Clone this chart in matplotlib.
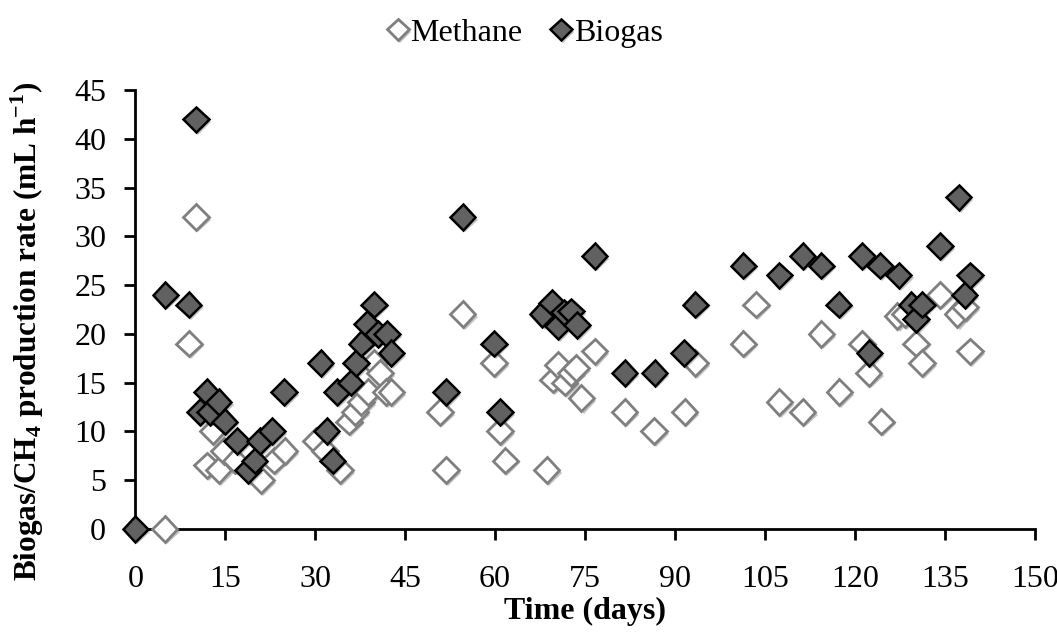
import matplotlib
matplotlib.use('Agg')
import matplotlib.pyplot as plt
import matplotlib.patheffects as pe
import numpy as np

# Biogas production rate (mL/h)
biogas_days = [0, 5.0, 8.9, 10.1, 10.8, 11.9, 12.5, 13.9, 14.9, 17.0, 18.8, 19.9, 20.8,
               22.8, 24.8, 30.9, 31.9, 32.9, 33.6, 35.9, 36.8, 37.7, 38.6, 39.8, 40.5,
               42.0, 42.7, 51.8, 54.6, 59.8, 60.8, 67.9, 69.5, 70.5, 71.5, 72.7, 73.7,
               76.6, 81.6, 86.6, 91.5, 93.4, 101.4, 107.4, 111.3, 114.4, 117.3, 121.2,
               122.4, 124.2, 127.3, 129.4, 130.2, 131.2, 134.2, 137.3, 138.3, 139.2]
biogas_rate = [0, 24, 23, 42, 12, 14, 12, 13, 11, 9, 6, 7, 9,
               10, 14, 17, 10, 7, 14, 15, 17, 19, 21, 23, 20,
               20, 18, 14, 32, 19, 12, 22, 23.2, 20.8, 22.2, 22.3, 20.9,
               28, 16, 16, 18, 23, 27, 26, 28, 27, 23, 28,
               18, 27, 26, 23, 21.5, 23, 29, 34, 24, 26]

# Methane production rate (mL/h)
methane_days = [4.9, 9.0, 10.1, 12.0, 12.9, 13.9, 14.8, 16.7, 21.0, 23.1, 24.9,
                30.1, 31.6, 34.1, 35.6, 36.6, 37.6, 38.8, 39.8, 40.8, 41.8, 42.7,
                50.8, 51.8, 54.6, 59.8, 60.8, 61.7, 68.6, 69.6, 70.5, 71.6, 72.7,
                73.5, 74.4, 76.6, 81.6, 86.5, 91.6, 93.4, 101.4, 103.5, 107.4,
                111.3, 114.4, 117.4, 121.2, 122.3, 124.4, 127.1, 128.3, 130.2,
                131.2, 134.2, 137.1, 138.4, 139.2]
methane_rate = [0, 19, 32, 6.5, 10, 6, 8, 7, 5, 7, 8,
                9, 8, 6, 11, 12, 13, 14, 17, 16, 14, 14,
                12, 6, 22, 17, 10, 7, 6, 15.3, 16.8, 15, 16,
                16.5, 13.4, 18.2, 12, 10, 12, 17, 19, 23, 13,
                12, 20, 14, 19, 16, 11, 21.8, 22, 19,
                17, 24, 22, 22.7, 18.2]

x_ticks = np.arange(0, 151, 15)
y_ticks = np.arange(0, 46, 5)

plt.rcParams['font.family'] = ['Liberation Serif', 'DejaVu Serif']
plt.rcParams['mathtext.fontset'] = 'custom'
plt.rcParams['mathtext.rm'] = 'Liberation Serif'
plt.rcParams['mathtext.bf'] = 'Liberation Serif:bold'

fig = plt.figure(figsize=(10.57, 6.34), dpi=100)
ax = fig.add_axes([0.128, 0.166, 0.851, 0.692])

shadow = [pe.SimplePatchShadow(offset=(1.5, -2), shadow_rgbFace='#555555', alpha=0.35), pe.Normal()]

ax.plot(methane_days, methane_rate, linestyle='none', marker='D', markersize=13,
        markerfacecolor='white', markeredgecolor='#7f7f7f', markeredgewidth=2,
        label='Methane', path_effects=shadow, clip_on=False, zorder=3)
ax.plot(biogas_days, biogas_rate, linestyle='none', marker='D', markersize=13,
        markerfacecolor='#616161', markeredgecolor='black', markeredgewidth=1.8,
        label='Biogas', path_effects=shadow, clip_on=False, zorder=4)

ax.set_xlim(0, 150)
ax.set_ylim(0, 45)
ax.set_xticks(x_ticks)
ax.set_yticks(y_ticks)
ax.spines['top'].set_visible(False)
ax.spines['right'].set_visible(False)
for side in ['left', 'bottom']:
    ax.spines[side].set_linewidth(2)
ax.tick_params(direction='out', length=8, width=2, labelsize=23)
ax.tick_params(axis='x', pad=18)
ax.tick_params(axis='y', pad=13)

ax.set_xlabel('Time (days)', fontsize=23, fontweight='bold', labelpad=2)
ax.set_ylabel(r'Biogas/CH$_\mathbf{4}$ production rate (mL h$^{\mathbf{-1}}$)',
              fontsize=22.5, fontweight='bold')
ax.yaxis.set_label_coords(-0.099, 0.45)

fig.legend(loc='center', bbox_to_anchor=(0.497, 0.948), ncol=2, frameon=False,
           fontsize=23, markerscale=0.85, handlelength=0.6, handletextpad=0.1,
           columnspacing=0.9)

plt.savefig('out.png', dpi=100)
